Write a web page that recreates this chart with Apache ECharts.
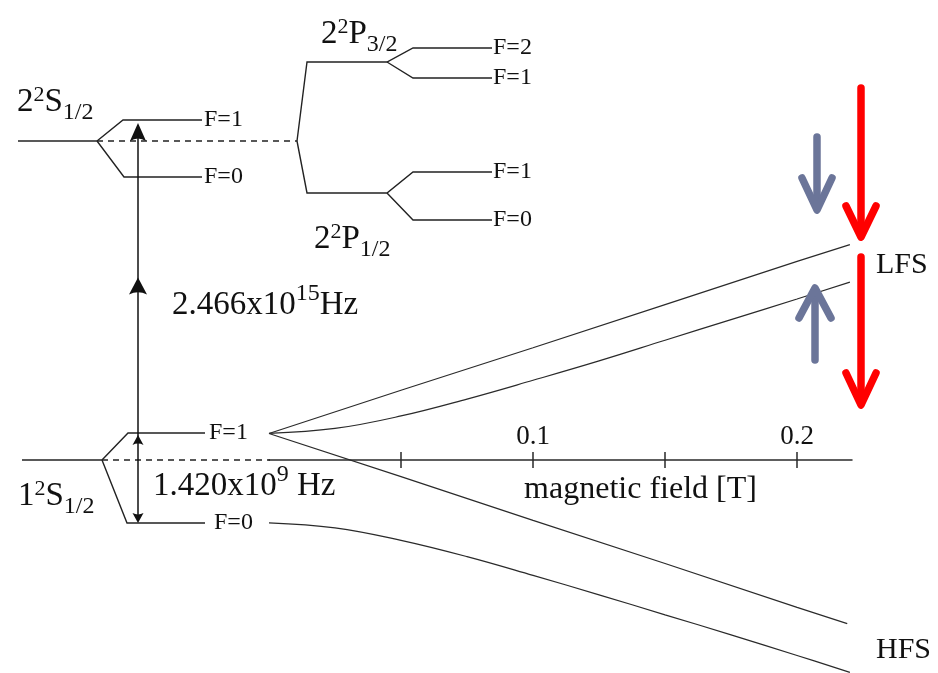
<!DOCTYPE html>
<html><head><meta charset="utf-8">
<script src="https://cdn.jsdelivr.net/npm/echarts@6/dist/echarts.min.js"></script>
<style>html,body{margin:0;padding:0;background:#fff}#c{width:938px;height:673px}</style>
</head><body><div id="c"></div>
<script>
// ---------- Breit-Rabi diagram: magnetic field [T] vs energy [GHz]
const fieldTicks = [0.05, 0.1, 0.15, 0.2];
const fieldLabels = [0.1, 0.2];
const lfsUpper = [[0,0.43],[0.05,1.12],[0.10,1.80],[0.15,2.49],[0.20,3.18],[0.22,3.45]];
const lfsLower = [[0,0.43],[0.025,0.51],[0.05,0.71],[0.075,0.98],[0.10,1.28],[0.125,1.59],[0.15,1.92],[0.175,2.25],[0.20,2.58],[0.22,2.85]];
const hfsUpper = [[0,0.43],[0.05,-0.26],[0.10,-0.96],[0.15,-1.65],[0.20,-2.35],[0.219,-2.61]];
const hfsLower = [[0,-1.00],[0.025,-1.08],[0.05,-1.28],[0.075,-1.54],[0.10,-1.84],[0.125,-2.15],[0.15,-2.47],[0.175,-2.79],[0.20,-3.12],[0.22,-3.39]];

// ---------- Level scheme (schematic units)
const levelLines = [
  [[18,141],[97,141]],
  [[97,141],[123,120],[202,120]],
  [[97,141],[124,177],[202,177]],
  [[297,141],[307,62],[387,62],[413,48],[492,48]],
  [[387,62],[413,78],[492,78]],
  [[297,141],[307,193],[387,193],[413,172],[492,172]],
  [[387,193],[413,220],[492,220]],
  [[22,460],[102,460]],
  [[102,460],[128,433],[205,433]],
  [[102,460],[127,523],[205,523]]
];
const dashedLines = [
  [[97,141],[297,141]],
  [[102,460],[270,460]]
];
const transitionLine = [[138,125],[138,521]];
// arrowheads: [x, y(center), width, height, rotation]
const arrowHeads = [
  [138,132,16,18,0],
  [138,286,18,17,0],
  [138,440,11,10,0],
  [138,518,11,10,180]
];
const redArrows = [
  {shaft:[[861,88],[861,234]], head:[[846,206],[861,237],[876,206]]},
  {shaft:[[861,257],[861,402]], head:[[846,373],[861,405],[876,373]]}
];
const blueArrows = [
  {shaft:[[817,137],[817,207]], head:[[802,178],[817,210],[832,178]]},
  {shaft:[[815,360],[815,291]], head:[[799,318],[815,288],[831,318]]}
];
const levelLabels = [
  ['F=1',204,120],['F=0',204,177],
  ['F=2',493,48],['F=1',493,78],['F=1',493,172],['F=0',493,220],
  ['F=1',209,433],['F=0',214,523]
];
const sideLabels = [['LFS',876,265],['HFS',876,650]];
// term symbols: [n, multiplicity, L, J, x, y]
const termLabels = [
  ['2','2','S','1/2',17,102],
  ['2','2','P','3/2',321,34],
  ['2','2','P','1/2',314,239],
  ['1','2','S','1/2',18,496]
];
// frequencies: [mantissa, exponent, unit, x, y]
const freqLabels = [
  ['2.466x10','15','Hz',172,305],
  ['1.420x10','9',' Hz',153,486]
];

const FONT = 'Liberation Serif';
const INK = '#111111';
const LEVEL = '#222222';
const RED = '#ff0000';
const BLUE = '#6b7599';
const HEAD = 'path://M6,0 L12,18 Q6,13 0,18 Z';

const chart = echarts.init(document.getElementById('c'));
const series = [];

function brLine(data, smooth) {
  series.push({type:'line', xAxisIndex:0, yAxisIndex:0, data:data, smooth:smooth ? 0.4 : false,
    showSymbol:false, symbol:'none', clip:false, silent:true,
    lineStyle:{color:'#2a2a2a', width:1.2}});
}
brLine(lfsUpper, false); brLine(lfsLower, true); brLine(hfsUpper, false); brLine(hfsLower, true);

function schem(data, style) {
  series.push({type:'line', xAxisIndex:2, yAxisIndex:1, data:data, showSymbol:false, symbol:'none',
    clip:false, silent:true, lineStyle:style});
}
levelLines.forEach(l => schem(l, {color:LEVEL, width:1.4, join:'miter'}));
dashedLines.forEach(l => schem(l, {color:LEVEL, width:1.4, type:[6,5]}));
schem(transitionLine, {color:'#111', width:1.5});
function bigArrow(a, color) {
  schem(a.shaft, {color:color, width:7.5, cap:'round'});
  schem(a.head, {color:color, width:7.5, cap:'round', join:'round'});
}
redArrows.forEach(a => bigArrow(a, RED));
blueArrows.forEach(a => bigArrow(a, BLUE));

series.push({type:'scatter', xAxisIndex:2, yAxisIndex:1, symbol:HEAD, silent:true, z:4,
  itemStyle:{color:'#111', opacity:1},
  data: arrowHeads.map(h => ({value:[h[0],h[1]], symbolSize:[h[2],h[3]], symbolRotate:h[4]}))});

function labelSeries(data, label) {
  series.push({type:'scatter', xAxisIndex:2, yAxisIndex:1, symbolSize:0, silent:true, z:5,
    itemStyle:{opacity:1},
    data:data, label:Object.assign({show:true, position:'right', distance:0, color:INK, opacity:1, fontFamily:FONT}, label)});
}
labelSeries(levelLabels.map(d => ({value:[d[1],d[2]], name:d[0]})), {fontSize:24, formatter:p => p.name});
labelSeries(sideLabels.map(d => ({value:[d[1],d[2]], name:d[0]})), {fontSize:30, formatter:p => p.name});
const rich = {
  n:{fontFamily:FONT, fontSize:33, lineHeight:46, color:INK},
  sup:{fontFamily:FONT, fontSize:22, lineHeight:22, verticalAlign:'top', padding:[5,0,0,0], color:INK},
  sub:{fontFamily:FONT, fontSize:24, lineHeight:24, verticalAlign:'bottom', color:INK},
  sup2:{fontFamily:FONT, fontSize:24, lineHeight:24, verticalAlign:'top', padding:[0,0,0,0], color:INK}
};
labelSeries(termLabels.map(d => ({value:[d[4],d[5]], name:'{n|'+d[0]+'}{sup|'+d[1]+'}{n|'+d[2]+'}{sub|'+d[3]+'}'})),
  {formatter:p => p.name, rich:rich});
labelSeries(freqLabels.map(d => ({value:[d[3],d[4]], name:'{n|'+d[0]+'}{sup2|'+d[1]+'}{n|'+d[2]+'}'})),
  {formatter:p => p.name, rich:rich});

const axisCol = '#2a2a2a';
chart.setOption({
  animation:false,
  backgroundColor:'#ffffff',
  grid:[
    {left:269, width:583, top:0, height:673, outerBoundsMode:'none', containLabel:false},
    {left:0, top:0, width:938, height:673, outerBoundsMode:'none', containLabel:false}
  ],
  xAxis:[
    {type:'value', gridIndex:0, min:0, max:0.2208, position:'bottom', offset:-213,
     axisLine:{show:true, onZero:false, lineStyle:{color:axisCol, width:1.5}},
     axisTick:{show:true, customValues:fieldTicks, length:8, lineStyle:{color:axisCol, width:1.5}},
     axisLabel:{show:false}, splitLine:{show:false},
     name:'magnetic field [T]', nameLocation:'middle', nameGap:14,
     nameTextStyle:{fontFamily:FONT, fontSize:32, color:INK, padding:[0,0,0,160]}},
    {type:'value', gridIndex:0, min:0, max:0.2208, position:'top', offset:-460,
     axisLine:{show:false, onZero:false},
     axisTick:{show:true, customValues:fieldTicks, length:8, lineStyle:{color:axisCol, width:1.5}},
     axisLabel:{show:true, customValues:fieldLabels, fontFamily:FONT, fontSize:27, color:INK, margin:10},
     splitLine:{show:false}},
    {type:'value', gridIndex:1, min:0, max:938, show:false}
  ],
  yAxis:[
    {type:'value', gridIndex:0, min:-3.4, max:7.36, show:false},
    {type:'value', gridIndex:1, min:0, max:673, inverse:true, show:false}
  ],
  series:series
});
</script></body></html>
